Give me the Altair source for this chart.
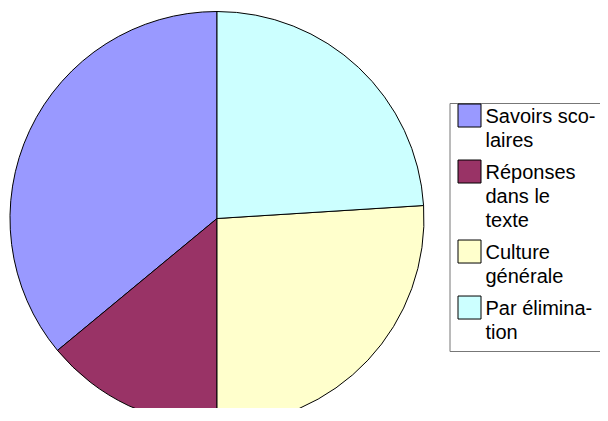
import json
import altair as alt
import pandas as pd

# Data (percent of answers)
categories = ["Savoirs scolaires", "Réponses dans le texte", "Culture générale", "Par élimination"]
values = [36, 14, 26, 24]
colors = ["#9999FF", "#993366", "#FFFFCC", "#CCFFFF"]
# legend labels as they are wrapped in the reference
legend_lines = [["Savoirs sco-", "laires"], ["Réponses", "dans le", "texte"],
                ["Culture", "générale"], ["Par élimina-", "tion"]]
# slice order clockwise from 12 o'clock
draw_order = [3, 2, 1, 0]

df = pd.DataFrame({"categorie": categories, "valeur": values, "ordre": draw_order})

label_expr = "{}[indexof({}, datum.label)]".format(
    json.dumps(legend_lines, ensure_ascii=False), json.dumps(categories, ensure_ascii=False))

chart = (
    alt.Chart(df)
    .mark_arc(outerRadius=207, stroke="black", strokeWidth=1)
    .encode(
        theta=alt.Theta("valeur:Q", stack=True),
        order=alt.Order("ordre:Q"),
        color=alt.Color(
            "categorie:N",
            scale=alt.Scale(domain=categories, range=colors),
            legend=alt.Legend(
                title=None, orient="none", legendX=441.5, legendY=74, padding=8,
                strokeColor="#777777", fillColor="white",
                labelFont="Liberation Sans", labelFontSize=20, labelColor="black",
                labelBaseline="alphabetic", labelExpr=label_expr, labelLimit=400,
                labelOffset=4, symbolType="M-1,-1.65H1V0.35H-1Z", symbolSize=529,
                symbolStrokeColor="black", symbolStrokeWidth=1, symbolOpacity=1,
                rowPadding=7,
            ),
        ),
    )
    .properties(width=418, height=379, autosize="none",
                padding={"left": 0, "top": 21, "right": 174, "bottom": 0})
    .configure(style={"guide-label": {"lineHeight": 24}})
    .configure_view(stroke=None)
)

chart.save("out.html", embed_options={"renderer": "svg", "actions": False})
